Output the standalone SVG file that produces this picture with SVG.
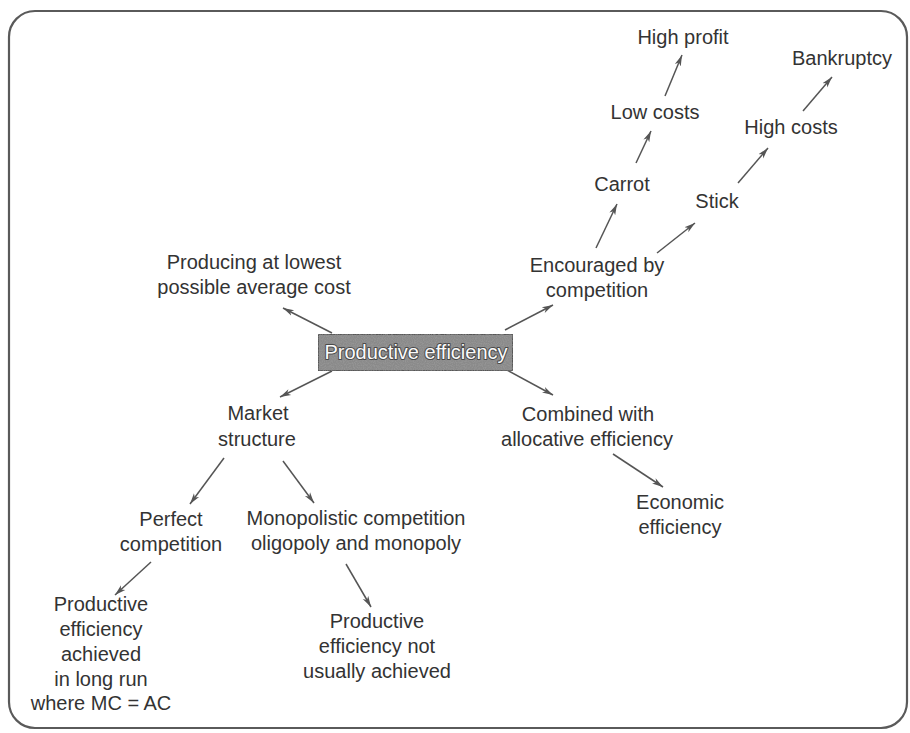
<svg xmlns="http://www.w3.org/2000/svg" width="910" height="733" viewBox="0 0 910 733">
  <style>
    .t { font-family: "Liberation Sans", Arial, sans-serif; font-size: 20px; fill: #333; text-anchor: middle; }
    .c { stroke: #555; stroke-width: 1.5; fill: none; marker-end: url(#arr); }
    .frame { fill: #fff; stroke: #5a5a5a; stroke-width: 2.2; }
    .core { fill: #8a8a8a; stroke: #444; stroke-width: 1.5; }
    .coretext { font-family: "Liberation Sans", Arial, sans-serif; font-size: 20px; fill: #fafafa; stroke: #4a4a4a; stroke-width: 2; paint-order: stroke; stroke-linejoin: round; text-anchor: middle; }
  </style>
  <defs>
    <marker id="arr" markerUnits="userSpaceOnUse" markerWidth="12" markerHeight="8" refX="11" refY="4" orient="auto">
      <path d="M0,0.8 L11,4 L0,7.2 L3,4 Z" fill="#555"/>
    </marker>
    <filter id="grain" x="0" y="0" width="100%" height="100%">
      <feTurbulence type="fractalNoise" baseFrequency="0.9" numOctaves="2" seed="3" result="n"/>
      <feColorMatrix in="n" type="matrix" values="0 0 0 0 0.35  0 0 0 0 0.35  0 0 0 0 0.35  0 0 0 1.2 -0.45" result="d"/>
      <feComposite in="d" in2="SourceGraphic" operator="atop"/>
    </filter>
  </defs>

  <rect width="910" height="733" fill="#fff"/>
  <rect class="frame" x="9" y="11" width="898" height="717" rx="26" ry="26"/>

  <!-- connectors -->
  <g id="connectors">
    <line class="c" x1="332" y1="333" x2="283" y2="308"/>
    <line class="c" x1="505" y1="330" x2="553" y2="305"/>
    <line class="c" x1="332" y1="371" x2="280" y2="397"/>
    <line class="c" x1="507" y1="370" x2="553" y2="395"/>
    <line class="c" x1="596" y1="248" x2="617" y2="204"/>
    <line class="c" x1="657" y1="253" x2="695" y2="223"/>
    <line class="c" x1="636" y1="163" x2="651" y2="131"/>
    <line class="c" x1="665" y1="96" x2="682" y2="55"/>
    <line class="c" x1="738" y1="183" x2="768" y2="148"/>
    <line class="c" x1="803" y1="111" x2="832" y2="77"/>
    <line class="c" x1="224" y1="458" x2="190" y2="504"/>
    <line class="c" x1="283" y1="461" x2="314" y2="503"/>
    <line class="c" x1="151" y1="562" x2="115" y2="595"/>
    <line class="c" x1="346" y1="564" x2="371" y2="607"/>
    <line class="c" x1="613" y1="454" x2="663" y2="487"/>
  </g>

  <!-- central node -->
  <g id="productive-efficiency">
    <rect class="core" x="318" y="334" width="195" height="37" filter="url(#grain)"/>
    <text class="coretext" x="416" y="359">Productive efficiency</text>
  </g>

  <g id="lowest-cost">
    <text class="t" x="254" y="269">Producing at lowest</text>
    <text class="t" x="254" y="294">possible average cost</text>
  </g>

  <g id="competition">
    <text class="t" x="597" y="272">Encouraged by</text>
    <text class="t" x="597" y="297">competition</text>
  </g>

  <g id="carrot"><text class="t" x="622" y="191">Carrot</text></g>
  <g id="low-costs"><text class="t" x="655" y="119">Low costs</text></g>
  <g id="high-profit"><text class="t" x="683" y="44">High profit</text></g>
  <g id="stick"><text class="t" x="717" y="208">Stick</text></g>
  <g id="high-costs"><text class="t" x="791" y="134">High costs</text></g>
  <g id="bankruptcy"><text class="t" x="842" y="65">Bankruptcy</text></g>

  <g id="market-structure">
    <text class="t" x="258" y="420">Market</text>
    <text class="t" x="257" y="446">structure</text>
  </g>

  <g id="allocative">
    <text class="t" x="588" y="421">Combined with</text>
    <text class="t" x="587" y="446">allocative efficiency</text>
  </g>

  <g id="economic-efficiency">
    <text class="t" x="680" y="509">Economic</text>
    <text class="t" x="680" y="534">efficiency</text>
  </g>

  <g id="perfect-competition">
    <text class="t" x="171" y="526">Perfect</text>
    <text class="t" x="171" y="551">competition</text>
  </g>

  <g id="imperfect-competition">
    <text class="t" x="356" y="525">Monopolistic competition</text>
    <text class="t" x="356" y="550">oligopoly and monopoly</text>
  </g>

  <g id="achieved">
    <text class="t" x="101" y="611">Productive</text>
    <text class="t" x="101" y="636">efficiency</text>
    <text class="t" x="101" y="661">achieved</text>
    <text class="t" x="101" y="686">in long run</text>
    <text class="t" x="101" y="710">where MC = AC</text>
  </g>

  <g id="not-achieved">
    <text class="t" x="377" y="628">Productive</text>
    <text class="t" x="377" y="653">efficiency not</text>
    <text class="t" x="377" y="678">usually achieved</text>
  </g>
</svg>
